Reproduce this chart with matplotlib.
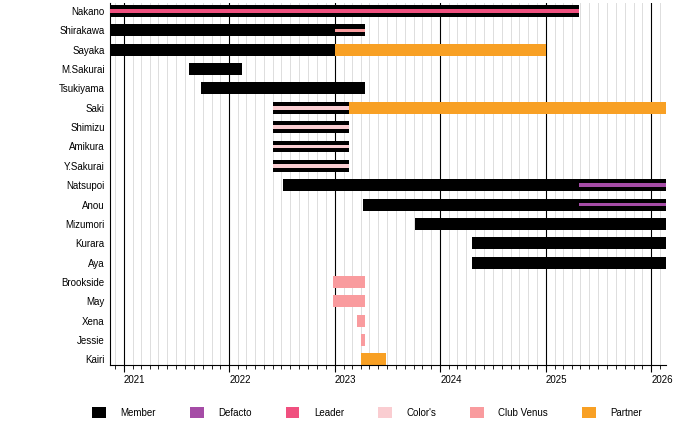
import matplotlib
matplotlib.use("Agg")
import matplotlib.pyplot as plt
import matplotlib.dates as mdates
from matplotlib.patches import Patch
import datetime as dt

plt.rcParams['font.family'] = ['Liberation Sans', 'DejaVu Sans']

names = ["Nakano", "Shirakawa", "Sayaka", "M.Sakurai", "Tsukiyama", "Saki", "Shimizu",
         "Amikura", "Y.Sakurai", "Natsupoi", "Anou", "Mizumori", "Kurara", "Aya",
         "Brookside", "May", "Xena", "Jessie", "Kairi"]

START, END = "2020-11-15", "2026-02-20"
# (name, role, start, end)
bars = [
    ("Nakano", "Member", START, "2025-04-25"),
    ("Shirakawa", "Member", START, "2023-04-15"),
    ("Sayaka", "Member", START, "2023-01-01"),
    ("Sayaka", "Partner", "2023-01-01", "2025-01-03"),
    ("M.Sakurai", "Member", "2021-08-15", "2022-02-15"),
    ("Tsukiyama", "Member", "2021-09-25", "2023-04-15"),
    ("Saki", "Member", "2022-06-01", "2023-02-20"),
    ("Saki", "Partner", "2023-02-20", END),
    ("Shimizu", "Member", "2022-06-01", "2023-02-20"),
    ("Amikura", "Member", "2022-06-01", "2023-02-20"),
    ("Y.Sakurai", "Member", "2022-06-01", "2023-02-20"),
    ("Natsupoi", "Member", "2022-07-05", END),
    ("Anou", "Member", "2023-04-10", END),
    ("Mizumori", "Member", "2023-10-05", END),
    ("Kurara", "Member", "2024-04-20", END),
    ("Aya", "Member", "2024-04-20", END),
    ("Brookside", "Club Venus", "2022-12-28", "2023-04-15"),
    ("May", "Club Venus", "2022-12-28", "2023-04-15"),
    ("Xena", "Club Venus", "2023-03-20", "2023-04-15"),
    ("Jessie", "Club Venus", "2023-04-01", "2023-04-15"),
    ("Kairi", "Partner", "2023-04-01", "2023-06-28"),
]
stripes = [
    ("Nakano", "Leader", START, "2025-04-25"),
    ("Shirakawa", "Club Venus", "2023-01-01", "2023-04-15"),
    ("Saki", "Color's", "2022-06-01", "2023-02-20"),
    ("Shimizu", "Color's", "2022-06-01", "2023-02-20"),
    ("Amikura", "Color's", "2022-06-01", "2023-02-20"),
    ("Y.Sakurai", "Color's", "2022-06-01", "2023-02-20"),
    ("Natsupoi", "Defacto", "2025-04-25", END),
    ("Anou", "Defacto", "2025-04-25", END),
]
roles = ["Member", "Defacto", "Leader", "Color's", "Club Venus", "Partner"]
colors = {"Member": "#000000", "Defacto": "#a54ca6", "Leader": "#f0507f",
          "Color's": "#facdd1", "Club Venus": "#f99b9e", "Partner": "#f8a024"}

def d(s):
    return mdates.date2num(dt.datetime.strptime(s, "%Y-%m-%d"))

fig = plt.figure(figsize=(6.8, 4.25), dpi=100)
ax = fig.add_axes([0.162, 0.141, 0.817, 0.852])
ypos = {n: i for i, n in enumerate(names)}

x0, x1 = d(START), d(END)
# monthly grid
m = dt.datetime(2020, 12, 1)
while mdates.date2num(m) < x1:
    lc, lw = ("black", 0.8) if m.month == 1 else ("#dddddd", 0.7)
    ax.axvline(mdates.date2num(m), color=lc, lw=lw, zorder=0)
    m = dt.datetime(m.year + (m.month == 12), m.month % 12 + 1, 1)

for n, r, s, e in bars:
    ax.barh(ypos[n], d(e) - d(s), left=d(s), height=0.62, color=colors[r], zorder=2)
for n, r, s, e in stripes:
    ax.barh(ypos[n], d(e) - d(s), left=d(s), height=0.2, color=colors[r], zorder=3)

ax.set_xlim(x0, x1)
ax.set_ylim(18.3, -0.42)
ax.set_yticks(range(len(names)))
ax.set_yticklabels(names, fontsize=7)
ax.tick_params(axis='y', length=0, pad=4)
ax.xaxis.set_major_locator(mdates.YearLocator())
ax.xaxis.set_major_formatter(mdates.DateFormatter("%Y"))
ax.xaxis.set_minor_locator(mdates.MonthLocator())
ax.tick_params(axis='x', which='major', length=6, labelsize=7, direction='in')
ax.tick_params(axis='x', which='minor', length=3, direction='in')
for lab in ax.get_xticklabels():
    lab.set_horizontalalignment('left')
ax.tick_params(axis='x', which='major', direction='out', length=5, pad=2)
ax.tick_params(axis='x', which='minor', direction='out', length=3)
for sp in ["top", "right"]:
    ax.spines[sp].set_visible(False)

handles = [Patch(facecolor=colors[r], label=r) for r in roles]
fig.legend(handles=handles, loc='lower center', ncol=6, frameon=False, fontsize=7,
           bbox_to_anchor=(0.54, -0.005), handlelength=1.4, handleheight=1.4,
           columnspacing=3.5, handletextpad=1.5)
fig.savefig("out.png", dpi=100)
